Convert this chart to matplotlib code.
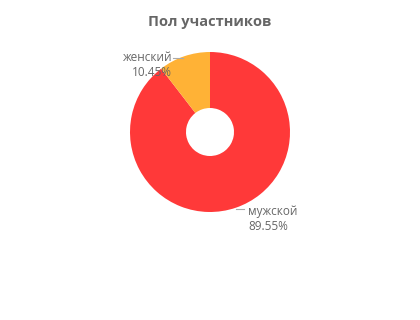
import matplotlib
matplotlib.use("Agg")
import matplotlib.pyplot as plt

title = "Пол участников"
labels = ["мужской", "женский"]
values = [89.55, 10.45]
colors = ["#ff3939", "#ffb236"]

plt.rcParams['font.family'] = ['Open Sans', 'DejaVu Sans']

fig = plt.figure(figsize=(4.2, 3.2), dpi=100)
W, H = 420, 320
cx, cy, r = 210, 132, 80
ax = fig.add_axes([(cx - r) / W, 1 - (cy + r) / H, 2 * r / W, 2 * r / H])
ax.pie(values, colors=colors, startangle=90, counterclock=False,
       radius=1, wedgeprops=dict(width=0.7, linewidth=0))
ax.set_xlim(-1, 1)
ax.set_ylim(-1, 1)
ax.set_aspect('equal')
ax.axis('off')

fig.text(0.5, 1 - 22 / H, title, ha='center', va='center', fontsize=10.5,
         fontweight='bold', color='#666666')

# labels
txt = [f"{l}\n{v:.2f}%" for l, v in zip(labels, values)]
ax.text(0.475, -1.09, txt[0], ha='left', va='center', fontsize=8.5,
        color='#666666', linespacing=1.2, clip_on=False)
ax.plot([0.33, 0.42], [-0.96, -0.96], color='#aaaaaa', lw=0.8, clip_on=False)
ax.text(-0.475, 0.84, txt[1], ha='right', va='center', fontsize=8.5,
        color='#666666', linespacing=1.2, clip_on=False, zorder=5)
ax.plot([-0.465, -0.34], [0.93, 0.93], color='#aaaaaa', lw=0.8, clip_on=False)

fig.savefig("out.png", dpi=100)
